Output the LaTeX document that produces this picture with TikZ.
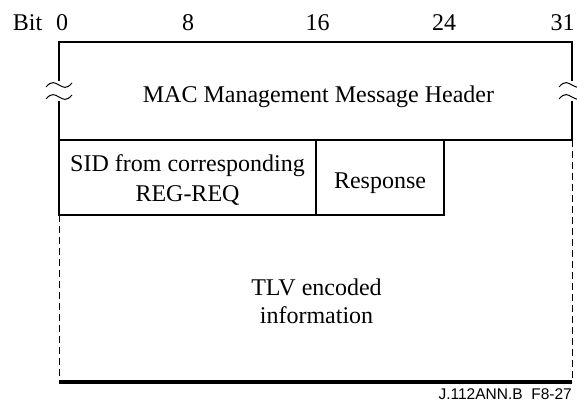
\documentclass[tikz,border=0pt]{standalone}
\usepackage{fontspec}
\setmainfont{Liberation Serif}
\newfontfamily\footfont{Liberation Sans}
\begin{document}
\begin{tikzpicture}[x=1pt,y=-1pt,
  lbl/.style={font=\fontsize{24}{28}\selectfont, align=center, inner sep=0pt, anchor=base},
  bitlbl/.style={font=\fontsize{24}{29}\selectfont, inner sep=0pt, anchor=base},
  frame/.style={line width=2.3pt},
  dashside/.style={line width=0.8pt, dash pattern=on 7pt off 4pt},
  wave/.style={line width=1pt}]
\useasboundingbox (0,0) rectangle (577,403);
% bit labels
\node[bitlbl] (bit) at (27.5,31) {Bit};
\node[bitlbl] (b0) at (62,31) {0};
\node[bitlbl] (b8) at (188,31) {8};
\node[bitlbl] (b16) at (317.5,31) {16};
\node[bitlbl] (b24) at (444,31) {24};
\node[bitlbl] (b31) at (562.5,31) {31};
% coordinates
\coordinate (tl) at (59,42);
\coordinate (tr) at (572,42);
\coordinate (hl) at (59,140);
\coordinate (hr) at (572,140);
\coordinate (sl) at (59,215);
\coordinate (sm) at (316,215);
\coordinate (sr) at (444,215);
\coordinate (bl) at (59,382);
\coordinate (br) at (572,382);
% header box (with breaks on sides)
\draw[frame] (59,81) -- (tl) -- (tr) -- (572,81);
\draw[frame] (59,101) -- (hl) -- (hr) -- (572,101);
% break waves
\foreach \xx in {59,572}{
  \foreach \yy in {85,97}{
    \draw[wave] (\xx-13,\yy+2) .. controls (\xx-7,\yy-5) and (\xx-4,\yy-2) .. (\xx,\yy) .. controls (\xx+4,\yy+2) and (\xx+7,\yy+5) .. (\xx+13,\yy-2);
  }
}
\node[lbl] (hdr) at (318.5,103) {MAC Management Message Header};
% SID / Response row
\draw[frame] (hl) -- (sl) -- (sr) -- (444,140);
\draw[frame] (316,140) -- (sm);
\node[lbl, font=\fontsize{24}{29}\selectfont] (sid) at (187.5,201) {SID from corresponding\\REG-REQ};
\node[lbl] (resp) at (380,189) {Response};
% TLV area
\draw[dashside] (sl) -- (bl);
\draw[dashside] (hr) -- (br);
\draw[line width=3.2pt] (bl) -- (br);
\node[lbl] (tlv) at (316.5,323) {TLV encoded\\information};
\node[font=\footfont\fontsize{15.5}{18}\selectfont, anchor=base east, inner sep=0pt] (foot) at (572,399) {J.112ANN.B\ \ F8-27};
\end{tikzpicture}
\end{document}
